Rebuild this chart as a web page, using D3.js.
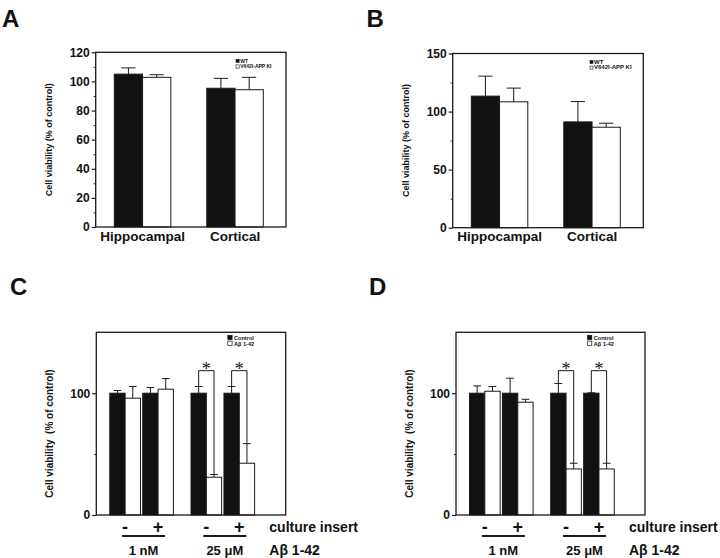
<!DOCTYPE html>
<html>
<head>
<meta charset="utf-8">
<script src="https://cdn.jsdelivr.net/npm/d3@7"></script>
<style>
  html, body { margin: 0; padding: 0; background: #fff; }
  svg { display: block; }
  text { font-family: "Liberation Sans", Arial, sans-serif; fill: #111; }
</style>
</head>
<body>
<svg id="chart" width="720" height="558"></svg>
<script>
// ---------------- data ----------------
const abCategories = ["Hippocampal", "Cortical"];
const abSeries = ["WT", "V642I-APP KI"];
const aWT = [105, 95.3];
const aWTErr = [4.3, 6.8];
const aKI = [102.8, 94.3];
const aKIErr = [1.8, 8.5];
const aTicks = [0, 20, 40, 60, 80, 100, 120];
const aMinorTicks = [10, 30, 50, 70, 90, 110];

const bWT = [113.3, 91.1];
const bWTErr = [17.2, 17.5];
const bKI = [108.4, 86.5];
const bKIErr = [11.8, 3.5];
const bTicks = [0, 50, 100, 150];
const bMinorTicks = [25, 75, 125];

const concentrations = ["1 nM", "25 μM"];
const inserts = ["-", "+"];
const cdSeries = ["Control", "Aβ 1-42"];
const cControl = [100, 100, 100, 100];
const cControlErr = [2.2, 4.7, 5.5, 5.5];
const cAbeta = [95.9, 103.3, 31, 42.5];
const cAbetaErr = [9.6, 8.7, 2.2, 16.1];
const dControl = [100, 100, 100, 100];
const dControlErr = [6, 12.3, 8, 0.3];
const dAbeta = [101.6, 92.6, 37.8, 37.8];
const dAbetaErr = [3.9, 2.4, 4.7, 4.7];
const cdTicks = [0, 100];
const cdMinorTicks = [50];
const significant = [2, 3];
const bracketLevel = 118.5;

// ---------------- drawing ----------------
const svg = d3.select("#chart");
svg.append("rect").attr("width", 720).attr("height", 558).attr("fill", "#fff");
const INK = "#1a1a1a";

function frameAndAxis(g, f, y, ticks, minor, titleText, titleSize, titleShift) {
  // y axis ticks
  const ax = d3.axisLeft(y).tickValues(ticks).tickSize(4).tickPadding(2).tickFormat(d3.format("d"));
  const axg = g.append("g").attr("transform", `translate(${f.x},0)`).call(ax);
  axg.select(".domain").remove();
  axg.selectAll("line").attr("stroke", INK).attr("stroke-width", 1.2);
  axg.selectAll("text").attr("font-size", 12).attr("font-weight", "bold").attr("fill", INK)
     .style("font-family", '"Liberation Sans", Arial, sans-serif');
  const mx = d3.axisLeft(y).tickValues(minor).tickSize(2).tickFormat("");
  const mg = g.append("g").attr("transform", `translate(${f.x},0)`).call(mx);
  mg.select(".domain").remove();
  mg.selectAll("line").attr("stroke", INK).attr("stroke-width", 1);
  // frame
  g.append("rect").attr("x", f.x).attr("y", f.y).attr("width", f.w).attr("height", f.h)
    .attr("fill", "none").attr("stroke", INK).attr("stroke-width", 1.3);
  // title
  const cy = f.y + f.h / 2 + titleShift;
  g.append("text").attr("transform", `translate(${f.x - 43.3},${cy}) rotate(-90)`)
    .attr("text-anchor", "middle").attr("font-size", titleSize).attr("font-weight", "bold")
    .style("white-space", "pre").text(titleText);
}

function errorBar(g, xc, w, yTop, yErr) {
  g.append("line").attr("x1", xc).attr("x2", xc).attr("y1", yTop).attr("y2", yErr)
    .attr("stroke", INK).attr("stroke-width", 1);
  g.append("line").attr("x1", xc - w / 4).attr("x2", xc + w / 4).attr("y1", yErr).attr("y2", yErr)
    .attr("stroke", INK).attr("stroke-width", 1);
}

function panelLetter(letter, x, y) {
  svg.append("text").attr("x", x).attr("y", y).attr("font-size", 24).attr("font-weight", "bold").text(letter);
}

function abPanel(f, yMax, ticks, minor, wt, wtErr, ki, kiErr, legendSize) {
  const g = svg.append("g");
  const y = d3.scaleLinear().domain([0, yMax]).range([f.y + f.h, f.y]);
  const xOuter = d3.scaleBand().domain(abCategories).range([f.x + 18.6, f.x + 167.6]).paddingInner(0.389).paddingOuter(0);
  const xInner = d3.scaleBand().domain(abSeries).range([0, xOuter.bandwidth()]).padding(0);
  const series = [{ name: abSeries[0], vals: wt, errs: wtErr, fill: "#111" },
                  { name: abSeries[1], vals: ki, errs: kiErr, fill: "#fff" }];
  series.forEach(s => {
    abCategories.forEach((c, i) => {
      const x0 = xOuter(c) + xInner(s.name);
      const bw = xInner.bandwidth();
      errorBar(g, x0 + bw / 2, bw, y(s.vals[i]), y(s.vals[i] + s.errs[i]));
      g.append("rect").attr("x", x0).attr("y", y(s.vals[i])).attr("width", bw)
        .attr("height", y(0) - y(s.vals[i])).attr("fill", s.fill).attr("stroke", INK).attr("stroke-width", 1);
    });
  });
  frameAndAxis(g, f, y, ticks, minor, "Cell viability (% of control)", 9, 0);
  abCategories.forEach(c => {
    g.append("text").attr("x", xOuter(c) + xOuter.bandwidth() / 2).attr("y", 241)
      .attr("text-anchor", "middle").attr("font-size", 13.5).attr("font-weight", "bold").text(c);
  });
  // legend
  const lx = f.x + (legendSize > 5.5 ? 137.3 : 140.3), ly = f.y + 7;
  const sq = legendSize > 5.5 ? 3 : 3.2;
  series.forEach((s, i) => {
    const yy = ly + i * 5.6;
    g.append("rect").attr("x", lx).attr("y", yy).attr("width", sq).attr("height", sq)
      .attr("fill", s.fill).attr("stroke", INK).attr("stroke-width", 0.6);
    g.append("text").attr("x", lx + sq + 1).attr("y", yy + sq).attr("font-size", legendSize)
      .attr("font-weight", "bold").text(s.name);
  });
}

function cdPanel(f, ctrl, ctrlErr, ab, abErr) {
  const g = svg.append("g");
  const y = d3.scaleLinear().domain([0, 150]).range([f.y + f.h, f.y]);
  const xConc = d3.scaleBand().domain(concentrations).range([f.x + 13.5, f.x + 158.3]).paddingInner(0.217).paddingOuter(0);
  const xIns = d3.scaleBand().domain(inserts).range([0, xConc.bandwidth()]).paddingInner(0.07).paddingOuter(0);
  const xSer = d3.scaleBand().domain(cdSeries).range([0, xIns.bandwidth()]).padding(0);
  const conds = [];
  concentrations.forEach(c => inserts.forEach(s => conds.push({ c, s })));
  const series = [{ name: cdSeries[0], vals: ctrl, errs: ctrlErr, fill: "#111" },
                  { name: cdSeries[1], vals: ab, errs: abErr, fill: "#fff" }];
  const bw = xSer.bandwidth();
  const xOf = (i, sName) => xConc(conds[i].c) + xIns(conds[i].s) + xSer(sName);
  series.forEach(s => {
    conds.forEach((cd, i) => {
      const x0 = xOf(i, s.name);
      errorBar(g, x0 + bw / 2, bw, y(s.vals[i]), y(s.vals[i] + s.errs[i]));
      g.append("rect").attr("x", x0).attr("y", y(s.vals[i])).attr("width", bw)
        .attr("height", y(0) - y(s.vals[i])).attr("fill", s.fill).attr("stroke", INK).attr("stroke-width", 1);
    });
  });
  // significance brackets
  significant.forEach(i => {
    const xl = xOf(i, cdSeries[0]) + bw / 2, xr = xOf(i, cdSeries[1]) + bw / 2;
    const yb = y(bracketLevel);
    g.append("path")
      .attr("d", `M${xl},${y(ctrl[i] + ctrlErr[i])}V${yb}H${xr}V${y(ab[i] + abErr[i])}`)
      .attr("fill", "none").attr("stroke", INK).attr("stroke-width", 1);
    g.append("text").attr("x", (xl + xr) / 2).attr("y", yb + 4)
      .attr("text-anchor", "middle").attr("font-size", 18)
      .style("font-family", '"Liberation Serif", "Times New Roman", serif').text("*");
  });
  frameAndAxis(g, f, y, cdTicks, cdMinorTicks, "Cell viability  (% of control)", 10, 10);
  // legend
  const lx = f.x + 131.5, ly = f.y + 3;
  series.forEach((s, i) => {
    const yy = ly + i * 5.8;
    g.append("rect").attr("x", lx).attr("y", yy).attr("width", 4.3).attr("height", 4.3)
      .attr("fill", s.fill).attr("stroke", INK).attr("stroke-width", 0.7);
    g.append("text").attr("x", lx + 6.2).attr("y", yy + 4.4).attr("font-size", 5.6)
      .attr("font-weight", "bold").text(s.name);
  });
  // bottom labels
  conds.forEach(cd => {
    g.append("text").attr("x", xConc(cd.c) + xIns(cd.s) + xIns.bandwidth() / 2).attr("y", 532.5)
      .attr("text-anchor", "middle").attr("font-size", 18).attr("font-weight", "bold").text(cd.s);
  });
  concentrations.forEach(c => {
    const cx = xConc(c) + xConc.bandwidth() / 2 + 2;
    g.append("line").attr("x1", cx - 21.5).attr("x2", cx + 21.5).attr("y1", 536).attr("y2", 536)
      .attr("stroke", INK).attr("stroke-width", 2);
    g.append("text").attr("x", cx).attr("y", 554.5).attr("text-anchor", "middle")
      .attr("font-size", 13).attr("font-weight", "bold").text(c);
  });
  g.append("text").attr("x", f.x + 173).attr("y", 531.5).attr("font-size", 14).attr("font-weight", "bold").text("culture insert");
  g.append("text").attr("x", f.x + 173).attr("y", 554.5).attr("font-size", 14).attr("font-weight", "bold").text(cdSeries[1]);
}

panelLetter("A", 2, 27);
panelLetter("B", 366.5, 27);
panelLetter("C", 10, 295);
panelLetter("D", 369, 295);

abPanel({ x: 95.7, y: 52.3, w: 190.3, h: 174.7 }, 120, aTicks, aMinorTicks, aWT, aWTErr, aKI, aKIErr, 5);
abPanel({ x: 452.7, y: 53.5, w: 190.6, h: 174.2 }, 150, bTicks, bMinorTicks, bWT, bWTErr, bKI, bKIErr, 6);
cdPanel({ x: 96.3, y: 332.3, w: 189.4, h: 182.7 }, cControl, cControlErr, cAbeta, cAbetaErr);
cdPanel({ x: 456, y: 332.3, w: 189, h: 182.7 }, dControl, dControlErr, dAbeta, dAbetaErr);
</script>
</body>
</html>
